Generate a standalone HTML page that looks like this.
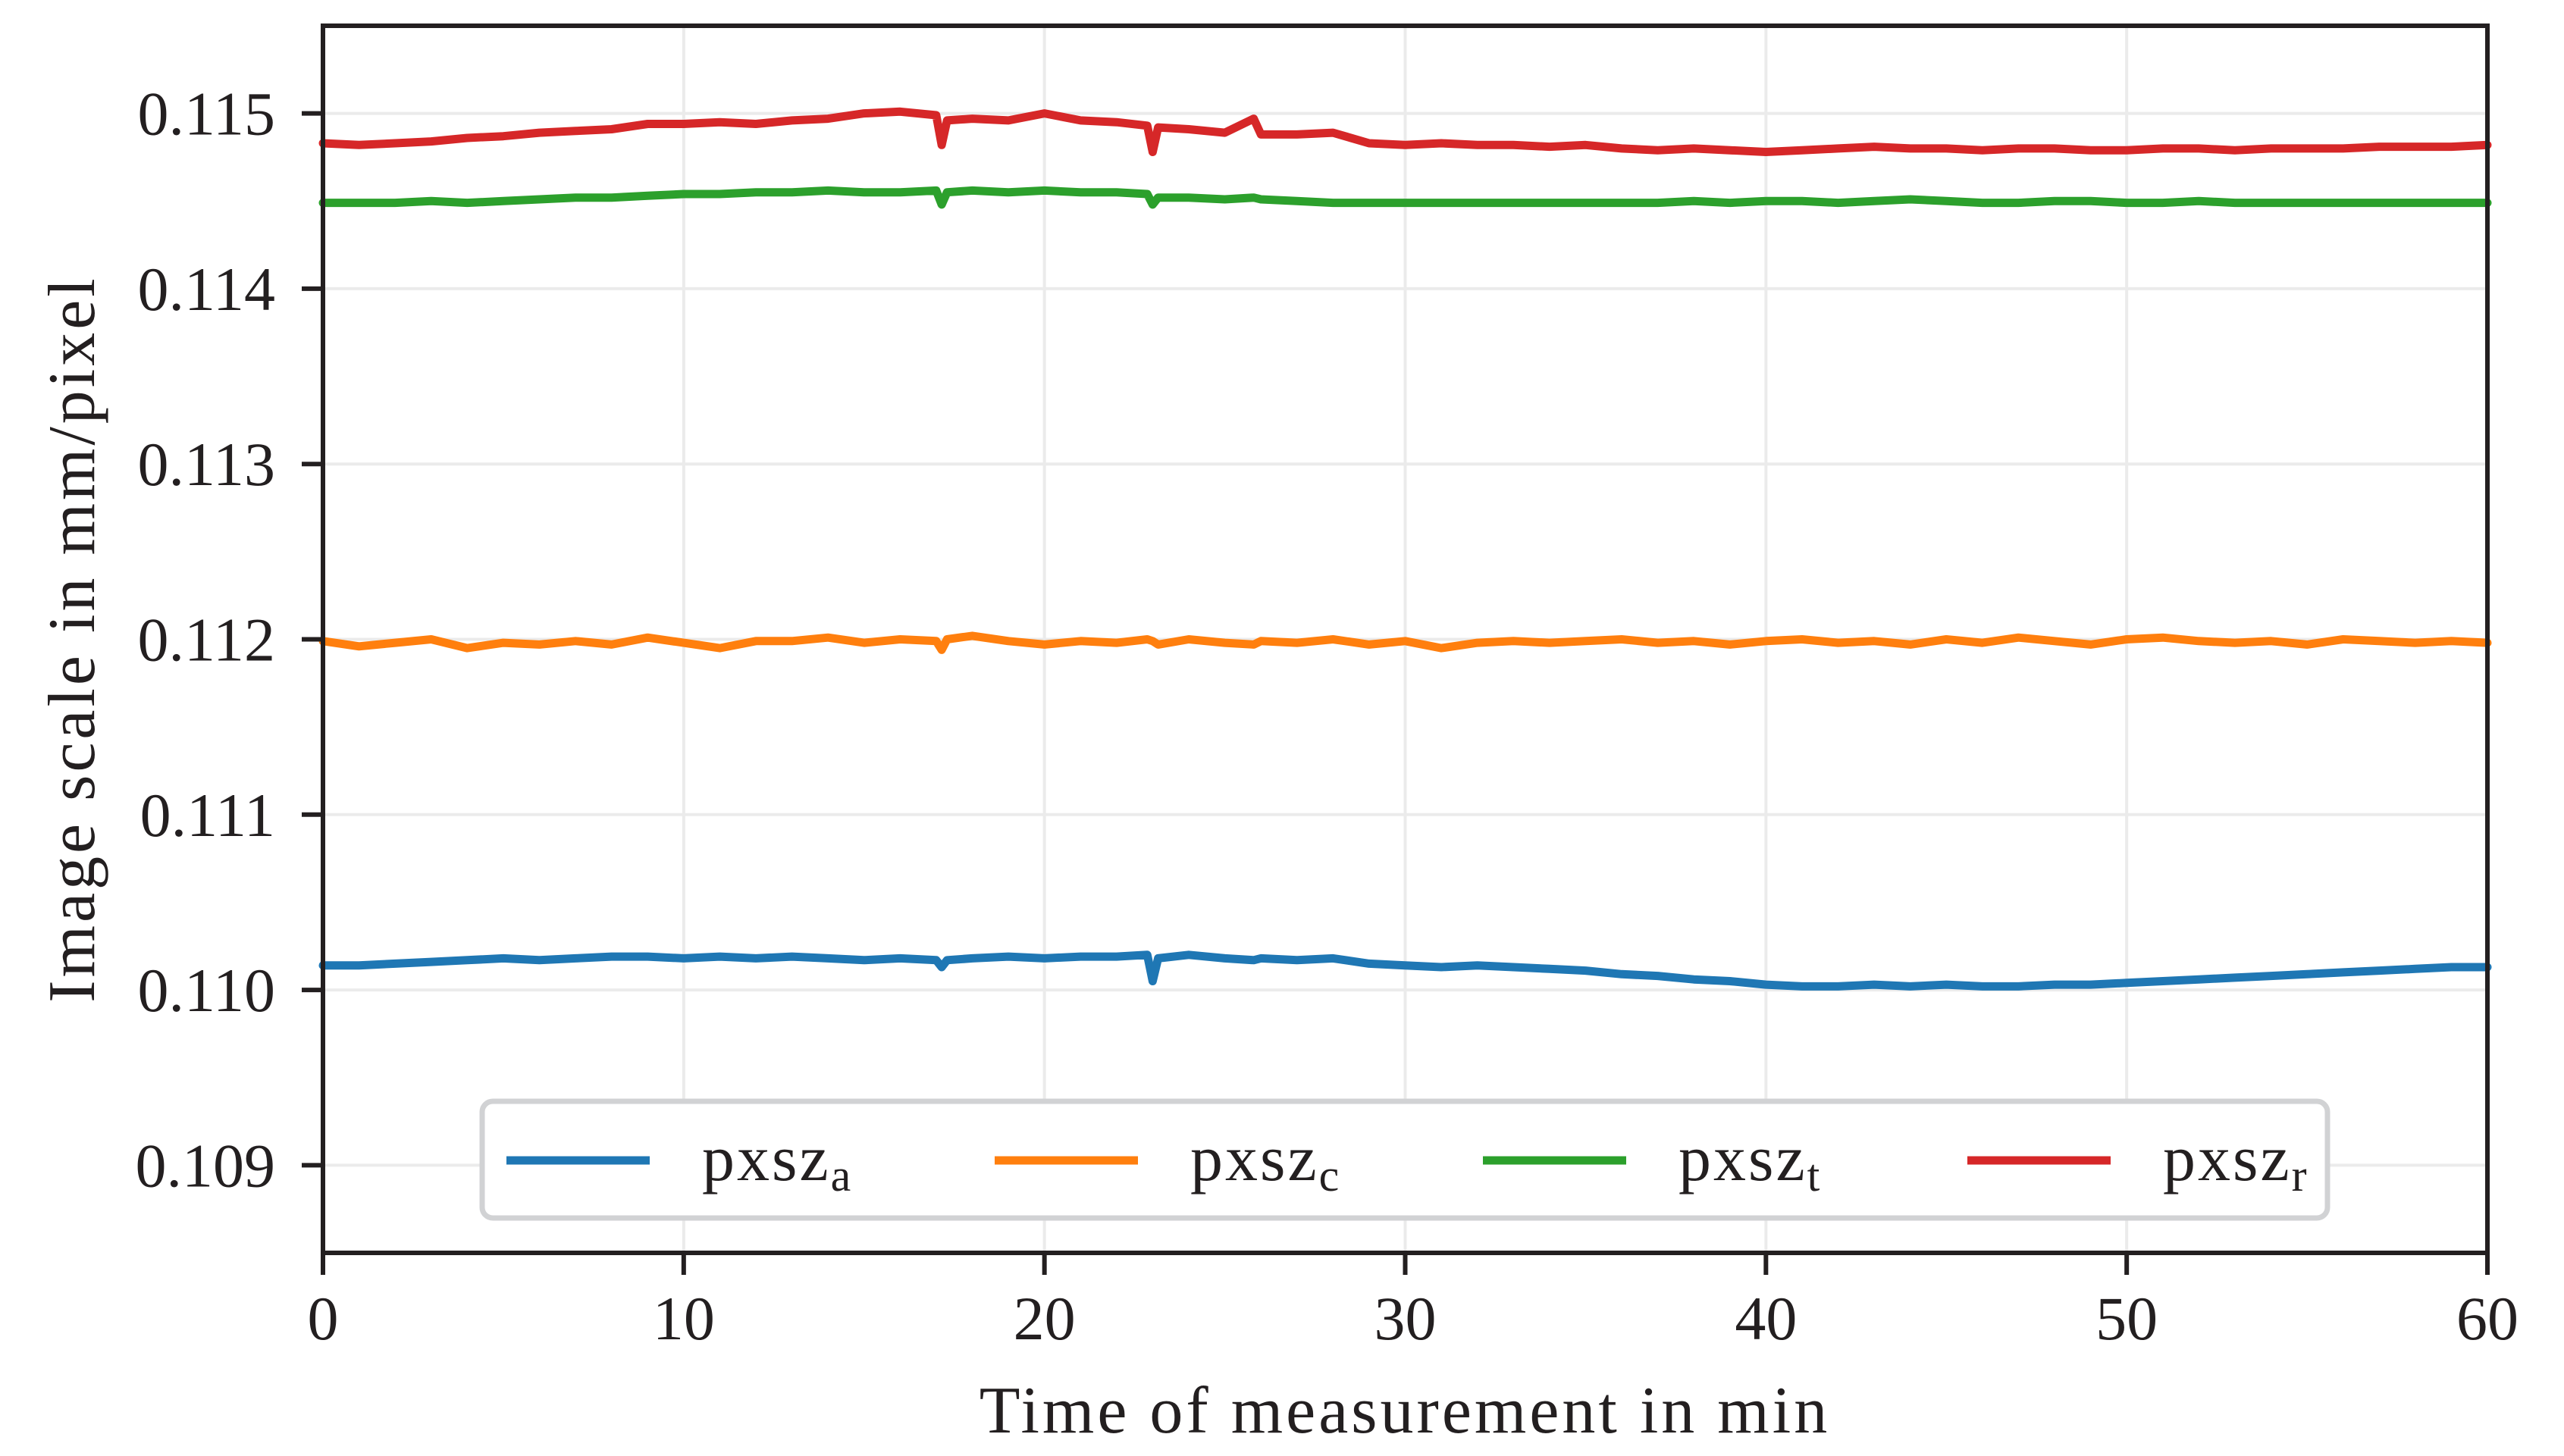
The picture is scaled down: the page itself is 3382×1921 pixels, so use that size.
<!DOCTYPE html>
<html><head><meta charset="utf-8"><style>
html,body{margin:0;padding:0;background:#fff;}
svg{display:block;font-family:"Liberation Serif",serif;}
</style></head><body>
<svg id="chart" width="3382" height="1921" viewBox="0 0 3382 1921" xmlns="http://www.w3.org/2000/svg">
<g id="grid"></g>
<g id="series"></g>
<rect x="426" y="34" width="2855" height="1619" fill="none" stroke="#231f20" stroke-width="6"/>
<g id="ticks"></g>
<text x="1853" y="1890" font-size="88" letter-spacing="4" text-anchor="middle" fill="#231f20">Time of measurement in min</text>
<text transform="translate(124,843) rotate(-90)" font-size="88" letter-spacing="4" text-anchor="middle" fill="#231f20">Image scale in mm/pixel</text>
<g id="legend">
<rect x="636" y="1453" width="2434" height="154" rx="14" fill="#fff" stroke="#d1d2d4" stroke-width="7"/>
</g>
</svg>
<script>
const times = [0,1,2,3,4,5,6,7,8,9,10,11,12,13,14,15,16,17,17.15,17.3,18,19,20,21,22,22.85,23,23.15,24,25,25.8,26,27,28,29,30,31,32,33,34,35,36,37,38,39,40,41,42,43,44,45,46,47,48,49,50,51,52,53,54,55,56,57,58,59,60];
const pxszA = [0.11014,0.11014,0.11015,0.11016,0.11017,0.11018,0.11017,0.11018,0.11019,0.11019,0.11018,0.11019,0.11018,0.11019,0.11018,0.11017,0.11018,0.11017,0.11013,0.11017,0.11018,0.11019,0.11018,0.11019,0.11019,0.11020,0.11005,0.11018,0.11020,0.11018,0.11017,0.11018,0.11017,0.11018,0.11015,0.11014,0.11013,0.11014,0.11013,0.11012,0.11011,0.11009,0.11008,0.11006,0.11005,0.11003,0.11002,0.11002,0.11003,0.11002,0.11003,0.11002,0.11002,0.11003,0.11003,0.11004,0.11005,0.11006,0.11007,0.11008,0.11009,0.11010,0.11011,0.11012,0.11013,0.11013];
const pxszC = [0.11199,0.11196,0.11198,0.11200,0.11195,0.11198,0.11197,0.11199,0.11197,0.11201,0.11198,0.11195,0.11199,0.11199,0.11201,0.11198,0.11200,0.11199,0.11194,0.11200,0.11202,0.11199,0.11197,0.11199,0.11198,0.11200,0.11199,0.11197,0.11200,0.11198,0.11197,0.11199,0.11198,0.11200,0.11197,0.11199,0.11195,0.11198,0.11199,0.11198,0.11199,0.11200,0.11198,0.11199,0.11197,0.11199,0.11200,0.11198,0.11199,0.11197,0.11200,0.11198,0.11201,0.11199,0.11197,0.11200,0.11201,0.11199,0.11198,0.11199,0.11197,0.11200,0.11199,0.11198,0.11199,0.11198];
const pxszT = [0.11449,0.11449,0.11449,0.11450,0.11449,0.11450,0.11451,0.11452,0.11452,0.11453,0.11454,0.11454,0.11455,0.11455,0.11456,0.11455,0.11455,0.11456,0.11448,0.11455,0.11456,0.11455,0.11456,0.11455,0.11455,0.11454,0.11448,0.11452,0.11452,0.11451,0.11452,0.11451,0.11450,0.11449,0.11449,0.11449,0.11449,0.11449,0.11449,0.11449,0.11449,0.11449,0.11449,0.11450,0.11449,0.11450,0.11450,0.11449,0.11450,0.11451,0.11450,0.11449,0.11449,0.11450,0.11450,0.11449,0.11449,0.11450,0.11449,0.11449,0.11449,0.11449,0.11449,0.11449,0.11449,0.11449];
const pxszR = [0.11483,0.11482,0.11483,0.11484,0.11486,0.11487,0.11489,0.11490,0.11491,0.11494,0.11494,0.11495,0.11494,0.11496,0.11497,0.11500,0.11501,0.11499,0.11482,0.11496,0.11497,0.11496,0.11500,0.11496,0.11495,0.11493,0.11478,0.11492,0.11491,0.11489,0.11497,0.11488,0.11488,0.11489,0.11483,0.11482,0.11483,0.11482,0.11482,0.11481,0.11482,0.11480,0.11479,0.11480,0.11479,0.11478,0.11479,0.11480,0.11481,0.11480,0.11480,0.11479,0.11480,0.11480,0.11479,0.11479,0.11480,0.11480,0.11479,0.11480,0.11480,0.11480,0.11481,0.11481,0.11481,0.11482];
const seriesNames = ["a","c","t","r"];
const seriesColors = ["#1f77b4","#ff7f0e","#2ca02c","#d62728"];
const xTicks = [0,10,20,30,40,50,60];
const yTicks = [0.109,0.110,0.111,0.112,0.113,0.114,0.115];
const yTickLabels = ["0.109","0.110","0.111","0.112","0.113","0.114","0.115"];

const NS="http://www.w3.org/2000/svg";
const X0=426,X1=3281,Y0=1653,Y1=34;
const xMin=0,xMax=60,yMin=0.1085,yMax=0.1155;
function xs(v){return X0+(v-xMin)/(xMax-xMin)*(X1-X0);}
function ys(v){return Y0-(v-yMin)/(yMax-yMin)*(Y0-Y1);}
function mk(tag,attrs,parent){const e=document.createElementNS(NS,tag);for(const k in attrs)e.setAttribute(k,attrs[k]);parent.appendChild(e);return e;}
const grid=document.getElementById('grid'),ticks=document.getElementById('ticks'),ser=document.getElementById('series'),leg=document.getElementById('legend');
xTicks.forEach(v=>{
 const g=mk('line',{x1:xs(v),x2:xs(v),y1:Y1,y2:Y0,stroke:'#ebebeb','stroke-width':4},grid);
 
 
 const t=mk('line',{x1:xs(v),x2:xs(v),y1:Y0,y2:Y0+29,stroke:'#231f20','stroke-width':6},ticks);
 
 
 const l=mk('text',{x:xs(v),y:1767,'font-size':82,'text-anchor':'middle',fill:'#231f20'},ticks);
 l.textContent=String(v);
 
 
});
yTicks.forEach((v,i)=>{
 const g=mk('line',{x1:X0,x2:X1,y1:ys(v),y2:ys(v),stroke:'#ebebeb','stroke-width':4},grid);
 
 
 const t=mk('line',{x1:X0-28,x2:X0,y1:ys(v),y2:ys(v),stroke:'#231f20','stroke-width':6},ticks);
 
 
 const l=mk('text',{x:363,y:ys(v)+28,'font-size':82,'text-anchor':'end',fill:'#231f20'},ticks);
 l.textContent=yTickLabels[i];
 
 
});
[pxszA,pxszC,pxszT,pxszR].forEach((arr,si)=>{
 const n=Math.min(arr.length,times.length);
 let d='';
 for(let i=0;i<n;i++)d+=(i?'L':'M')+xs(times[i]).toFixed(1)+','+ys(arr[i]).toFixed(1);
 const p=mk('path',{d:d,fill:'none',stroke:seriesColors[si],'stroke-width':11,'stroke-linejoin':'round','stroke-linecap':'round'},ser);
 
 
});
const legX=[668,1312,1956,2595];
seriesNames.forEach((s,i)=>{
 const l=mk('line',{x1:legX[i],x2:legX[i]+189,y1:1531,y2:1531,stroke:seriesColors[i],'stroke-width':11},leg);
 
 
 const t=mk('text',{x:legX[i]+258,y:1557,'font-size':86,'letter-spacing':3,fill:'#231f20'},leg);
 
 
 t.textContent='pxsz';
 const sub=mk('tspan',{'font-size':60,dy:14},t);
 sub.textContent=s;
});
</script>
</body></html>
